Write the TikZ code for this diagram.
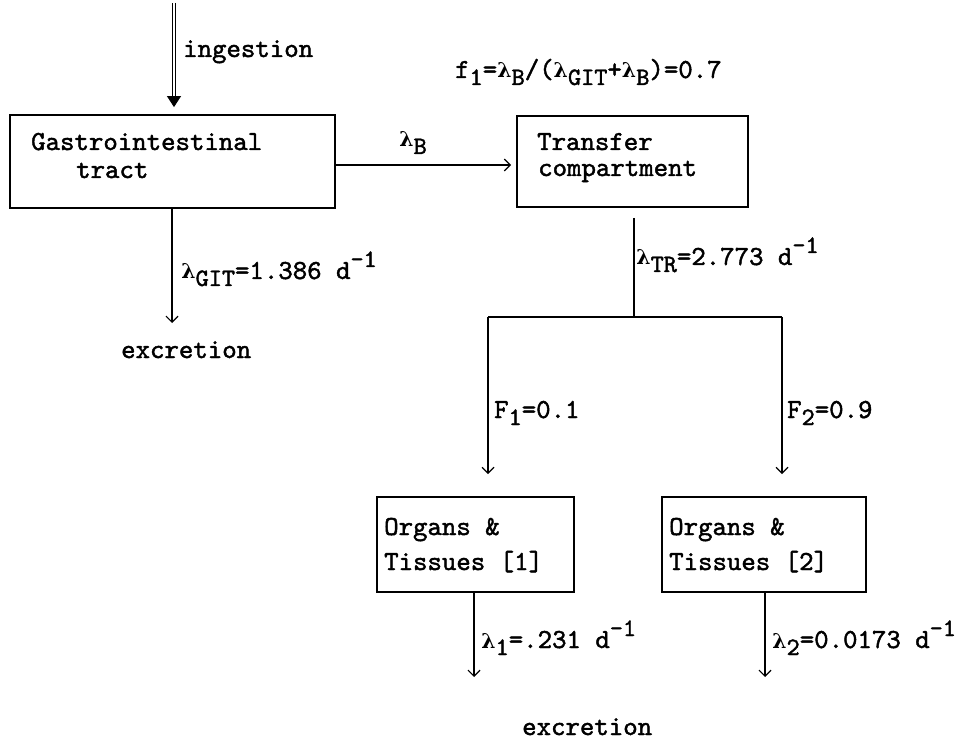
\documentclass[tikz,border=0pt]{standalone}
\usepackage{fontspec}
\newfontfamily\tw{lmmono10-regular.otf}[FakeBold=1.6]
\newfontfamily\grk[Scale=0.74]{DejaVu Serif}
\usetikzlibrary{arrows.meta}
% lambda set in a typewriter cell
\newcommand\lam{\makebox[0.525em][c]{\grk\bfseries λ}}
% lowered and raised indices, typewriter style
\newcommand\lsub[1]{\raisebox{-7pt}{\fontsize{25}{25}\selectfont #1}}
\newcommand\lsup[1]{\raisebox{12pt}{\fontsize{25}{25}\selectfont #1}}
\begin{document}
\begin{tikzpicture}[x=1pt,y=-1pt,
  every node/.style={font=\fontsize{27.5}{32}\tw},
  box/.style={draw, line width=1.8pt, rectangle, inner sep=0pt},
  txt/.style={anchor=base west, inner sep=0pt},
  flow/.style={line width=1.2pt, -{Straight Barb[length=6pt,width=12pt]}},
  link/.style={line width=1.2pt},
  feed/.style={line width=0.9pt, double distance=2.4pt, -{Triangle[length=11pt,width=14pt]}}]
\useasboundingbox (0,0) rectangle (961,743);

% compartments
\node[box, minimum width=325pt, minimum height=93pt] (git) at (172.5,161.5) {};
\node[box, minimum width=231pt, minimum height=91pt] (tr) at (632.5,161.5) {};
\node[box, minimum width=197pt, minimum height=95pt] (org1) at (475.5,544.5) {};
\node[box, minimum width=204pt, minimum height=95pt] (org2) at (764,544.5) {};

% compartment names
\node[txt] (gitA) at (31,150) {Gastrointestinal};
\node[txt] (gitB) at (76,178) {tract};
\node[txt] (trA) at (537,150) {Transfer};
\node[txt] (trB) at (538,176) {compartment};
\node[txt] (oA) at (384,535) {Organs \&};
\node[txt] (oB) at (384,570) {Tissues [1]};
\node[txt] (pA) at (669,535) {Organs \&};
\node[txt] (pB) at (669,570) {Tissues [2]};

% free ends and junctions
\coordinate (src) at (174,3);
\coordinate (exg) at (172,323);
\coordinate (br) at (634,317);
\coordinate (j1) at (488,317);
\coordinate (j2) at (782,317);
\coordinate (ex1) at (474,677);
\coordinate (ex2) at (765,677);

% intake
\draw[feed, shorten >=7pt] (src) -- (src |- git.north);
\node[txt] (ing) at (183,57) {ingestion};

% gut: loss and uptake
\draw[flow] (exg |- git.south) -- (exg);
\node[txt] (lgit) at (181,279) {\lam\lsub{GIT}=1.386 d\lsup{-1}};
\node[txt] (exc1) at (121,358) {excretion};

\draw[flow, shorten >=5pt] ([yshift=-3.5pt]git.east) -- ([yshift=-3.5pt]tr.west);
\node[txt] (lb) at (399,147) {\lam\lsub{B}};
\node[txt] (f1) at (455,78) {f\lsub{1}=\lam\lsub{B}/(\lam\lsub{GIT}+\lam\lsub{B})=0.7};

% transfer compartment split
\draw[link, shorten <=10pt] (br |- tr.south) -- (br);
\node[txt] (ltr) at (636,265) {\lam\lsub{TR}=2.773 d\lsup{-1}};
\draw[link] (j1) -- (j2);
\draw[flow, shorten >=22pt] (j1) -- (j1 |- org1.north);
\draw[flow, shorten >=22pt] (j2) -- (j2 |- org2.north);
\node[txt] (F1) at (494,418) {F\lsub{1}=0.1};
\node[txt] (F2) at (787,418) {F\lsub{2}=0.9};

% loss from organs and tissues
\draw[flow] (ex1 |- org1.south) -- (ex1);
\draw[flow] (ex2 |- org2.south) -- (ex2);
\node[txt] (l1) at (481,648) {\lam\lsub{1}=.231 d\lsup{-1}};
\node[txt] (l2) at (772,648) {\lam\lsub{2}=0.0173 d\lsup{-1}};
\node[txt] (exc2) at (522,735) {excretion};
\end{tikzpicture}
\end{document}
